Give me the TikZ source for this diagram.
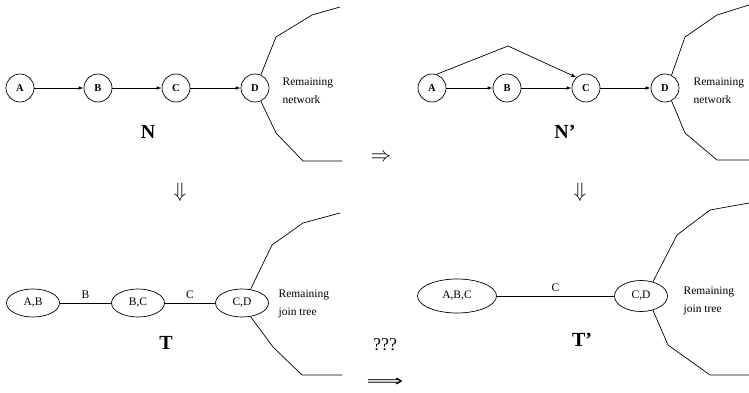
\documentclass[tikz,border=0pt]{standalone}
\usepackage{fontspec}
\setmainfont{Liberation Serif}
\newfontfamily\arrowfont{DejaVu Sans}
\usetikzlibrary{arrows.meta,shapes.geometric}

\begin{document}
\begin{tikzpicture}[
  x=1pt, y=-1pt, line width=0.7pt,
  >={Latex[length=5pt,width=3.5pt]},
  every node/.style={font=\fontsize{11.5}{13}\selectfont},
  var/.style={draw, circle, minimum size=28pt, inner sep=0pt,
              font=\fontsize{10.5}{12}\selectfont\bfseries},
  clique/.style={draw, ellipse, inner sep=0pt, minimum width=53pt,
                 minimum height=28pt},
  rest/.style={anchor=west, align=left, font=\fontsize{11.5}{18}\selectfont},
  title/.style={font=\fontsize{20}{24}\selectfont\bfseries},
  implies/.style={inner sep=0pt, font=\fontsize{20}{20}\selectfont},
]
\useasboundingbox (0,0) rectangle (749,393);

% Network N
\node[var] (A) at (20, 88) {A};
\node[var] (B) at (98, 88) {B};
\node[var] (C) at (176, 88) {C};
\node[var] (D) at (255, 88) {D};
\draw[->] (A) -- (B);
\draw[->] (B) -- (C);
\draw[->] (C) -- (D);
\draw (D.66) -- (276, 37) -- (312, 15) -- (340, 7);
\draw (D.-66) -- (276, 133) -- (303, 161) -- (342, 161);
\node[rest] (restN) at (279, 91) {Remaining\\network};
\node[title] (N) at (148, 132) {N};

% Network N'
\node[var] (A2) at (432, 88) {A};
\node[var] (B2) at (507, 88) {B};
\node[var] (C2) at (586, 88) {C};
\node[var] (D2) at (665, 88) {D};
\coordinate (apex) at (508, 46);
\draw[->] (A2) -- (B2);
\draw[->] (B2) -- (C2);
\draw[->] (C2) -- (D2);
\draw[->] (A2.72) -- (apex) -- (C2.132);
\draw (D2.63) -- (685, 37) -- (717, 15) -- (749, 5);
\draw (D2.-63) -- (685, 133) -- (717, 160) -- (749, 160);
\node[rest] (restN2) at (690, 91) {Remaining\\network};
\node[title] (N2) at (565, 132) {N'};

% Join tree T
\node[clique] (AB) at (33, 303) {A,B};
\node[clique] (BC) at (138, 303) {B,C};
\node[clique] (CD) at (242, 303) {C,D};
\draw (AB) -- node[above=1pt] {B} (BC);
\draw (BC) -- node[above=1pt] {C} (CD);
\draw (CD.58) -- (272, 245) -- (303, 223) -- (340, 213);
\draw (CD.-58) -- (273, 347) -- (302, 375) -- (342, 375);
\node[rest] (restT) at (275, 304) {Remaining\\join tree};
\node[title] (T) at (166, 343) {T};

% Join tree T'
\node[clique, minimum width=79pt, minimum height=34pt] (ABC) at (457, 296) {A,B,C};
\node[clique, minimum height=31pt] (CD2) at (641, 296) {C,D};
\draw (ABC) -- node[above=1pt] {C} (CD2);
\draw (CD2.50) -- (677, 235) -- (710, 210) -- (749, 203);
\draw (CD2.-50) -- (668, 345) -- (710, 375) -- (749, 375);
\node[rest] (restT2) at (680, 301) {Remaining\\join tree};
\node[title] (T2) at (582, 340) {T'};

% Arrows between panels
\node[implies] (rightN) at (381, 158) {$\Rightarrow$};
\node[implies] (downN) at (180, 192) {$\Downarrow$};
\node[implies] (downN2) at (580, 192) {$\Downarrow$};
\node[implies, font=\fontsize{18}{18}\selectfont] (unknown) at (385, 345) {???};
\node[implies, font=\fontsize{16}{16}\selectfont\arrowfont] (rightT) at (385, 382)
  {\scalebox{1.6}[1]{⟹}};
\end{tikzpicture}
\end{document}
